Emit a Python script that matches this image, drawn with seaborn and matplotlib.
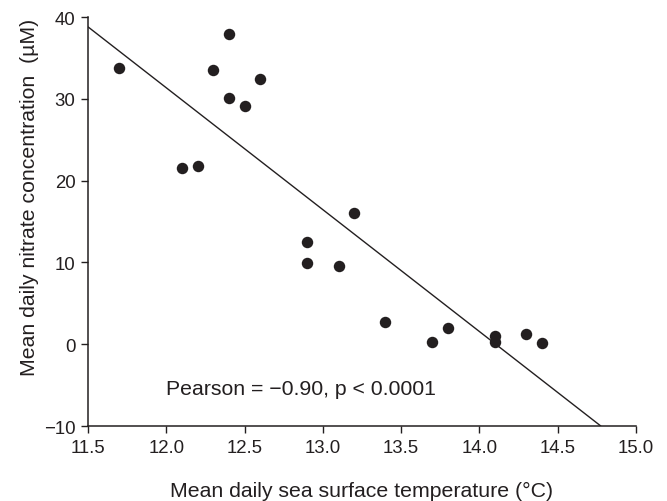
import numpy as np
import seaborn as sns
import matplotlib.pyplot as plt
import pandas as pd

# Valores
temperature = [11.7, 12.1, 12.2, 12.3, 12.4, 12.4, 12.5, 12.6, 12.9, 12.9,
               13.1, 13.2, 13.4, 13.7, 13.8, 14.1, 14.1, 14.3, 14.4]
nitrate = [33.8, 21.6, 21.8, 33.5, 37.9, 30.1, 29.1, 32.4, 12.5, 9.9,
           9.6, 16.0, 2.7, 0.3, 2.0, 1.0, 0.3, 1.3, 0.1]

# Reta de regressão
fit_slope = -14.9
fit_intercept = 210.15

x_ticks = [11.5, 12.0, 12.5, 13.0, 13.5, 14.0, 14.5, 15.0]
y_ticks = [-10, 0, 10, 20, 30, 40]

df = pd.DataFrame({'temp': temperature, 'nitrate': nitrate})

sns.set_style('ticks')
plt.rcParams['font.family'] = ['Liberation Sans', 'DejaVu Sans']
ink = '#231f20'

fig = plt.figure(figsize=(6.67, 5.02), dpi=100)
ax = fig.add_axes([0.132, 0.1494, 0.8215, 0.8146])

sns.scatterplot(data=df, x='temp', y='nitrate', ax=ax, color=ink, s=68,
                edgecolor=ink, linewidth=0, zorder=3)
ax.axline((0, fit_intercept), slope=fit_slope, color=ink, lw=1.0)

ax.set_xlim(11.5, 15.0)
ax.set_ylim(-10, 40)
ax.set_xticks(x_ticks)
ax.set_xticklabels([f'{t:.1f}' for t in x_ticks])
ax.set_yticks(y_ticks)
ax.set_yticklabels([str(t).replace('-', '\u2212') for t in y_ticks])
ax.tick_params(direction='out', length=5, width=1, colors=ink, labelsize=13.4, pad=4)

for s in ['top', 'right']:
    ax.spines[s].set_visible(False)
for s in ['left', 'bottom']:
    ax.spines[s].set_color(ink)
    ax.spines[s].set_linewidth(1.1)

ax.set_xlabel('Mean daily sea surface temperature (°C)', fontsize=15.3, color=ink)
ax.set_ylabel('Mean daily nitrate concentration  (µM)', fontsize=15.3, color=ink)
ax.xaxis.set_label_coords(0.5, -0.134)
ax.yaxis.set_label_coords(-0.089, 0.562)

ax.text(12.0, -5.4, 'Pearson = \u22120.90, p < 0.0001', fontsize=15.3, color=ink,
        ha='left', va='center')

plt.savefig('out.png', dpi=100)
